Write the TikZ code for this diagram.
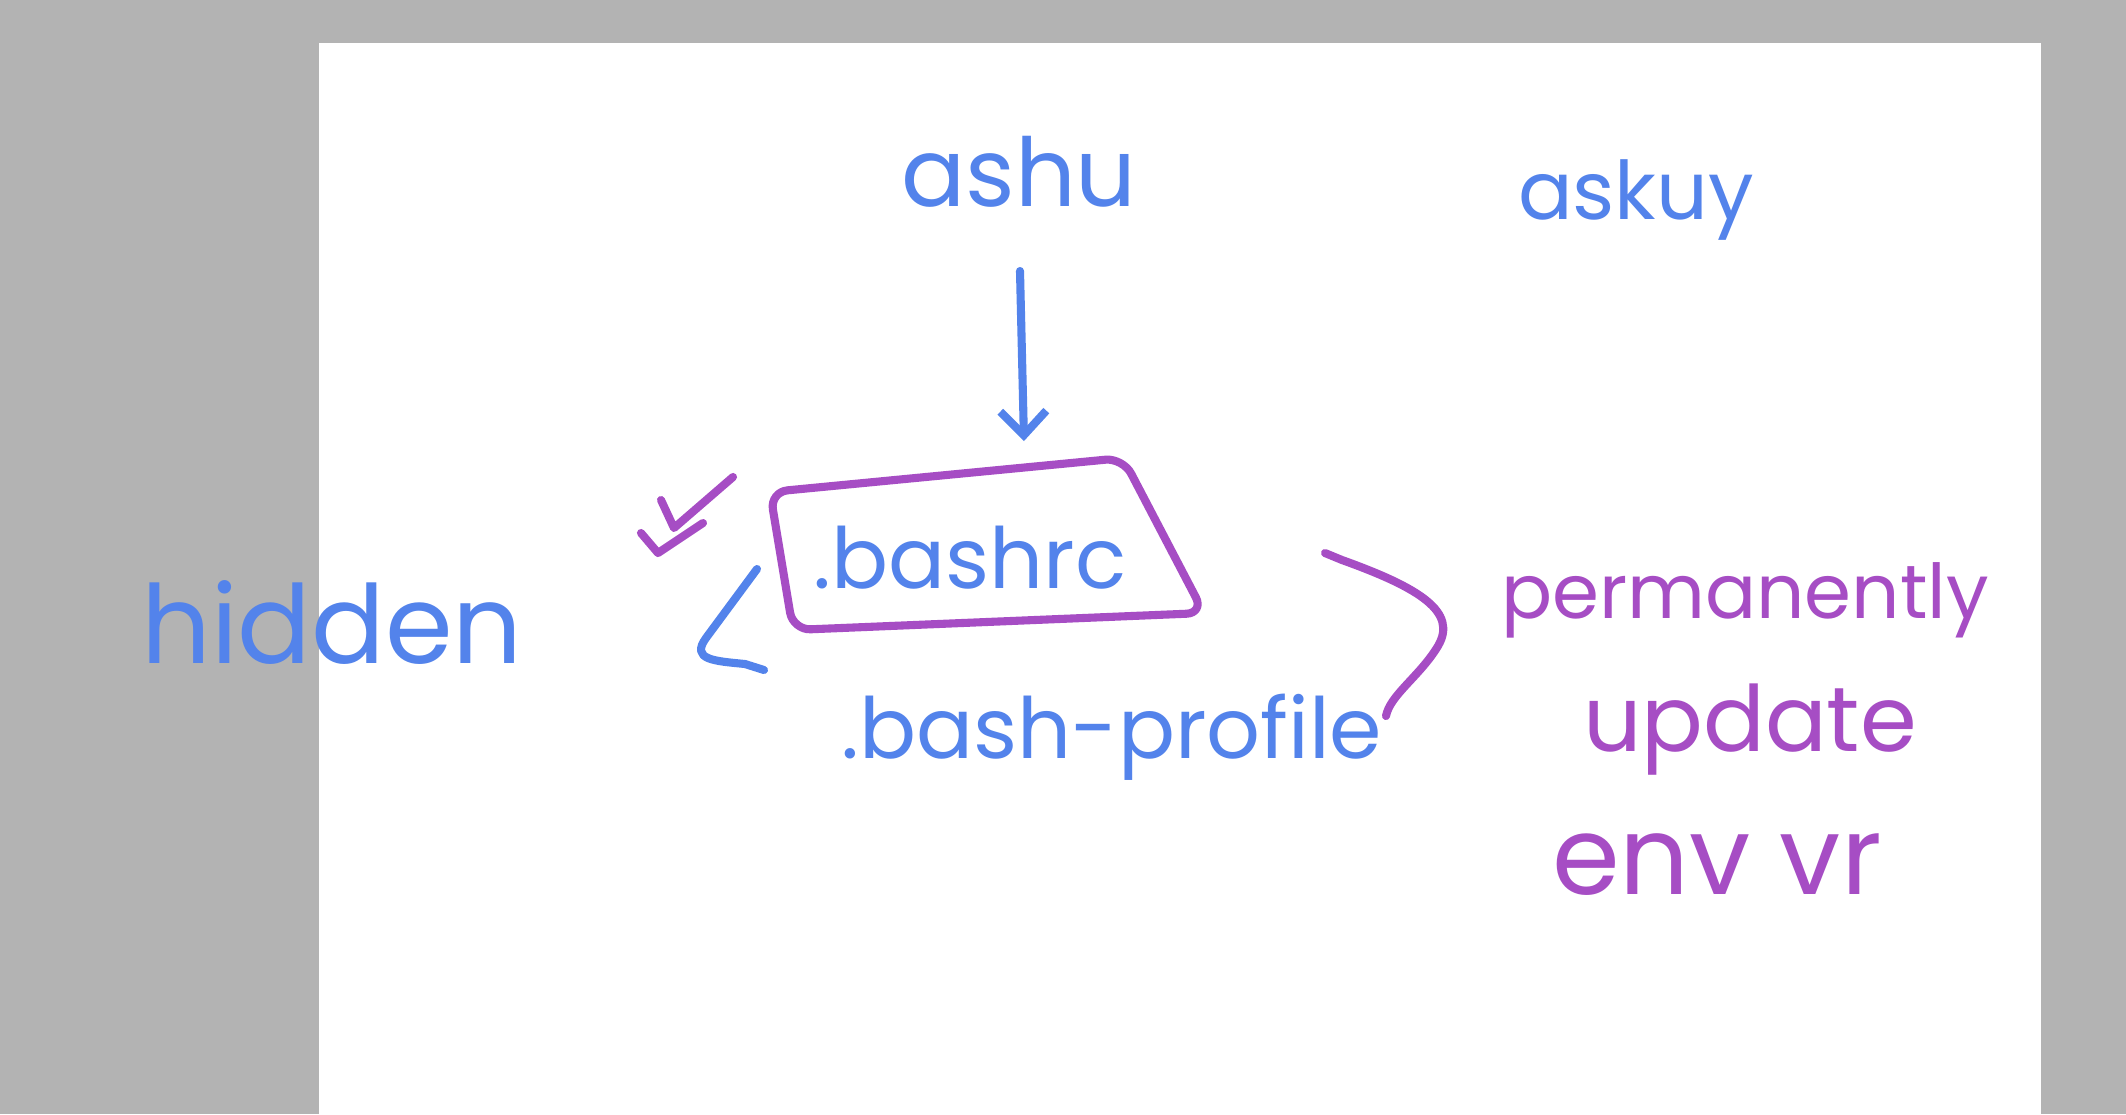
\documentclass[tikz,border=0pt]{standalone}
\usepackage{fontspec}
\setmainfont{Poppins}
\usetikzlibrary{arrows.meta}
\definecolor{penblue}{HTML}{5383EB}
\definecolor{penpurple}{HTML}{A64DC4}
\definecolor{deskgray}{HTML}{B3B3B3}
\begin{document}
\begin{tikzpicture}[x=0.01cm,y=-0.01cm,
	pen/.style={line width=2.3pt,line cap=round,line join=round},
	bluepen/.style={pen,draw=penblue},
	purplepen/.style={pen,draw=penpurple},
	word/.style={inner sep=0pt,text=penblue},
	pinkword/.style={inner sep=0pt,text=penpurple}]
	\newcommand{\myfontsize}[2]{
		\fontsize{#1}{#1}\selectfont{#2}
	}%Page
	\useasboundingbox (0,0) rectangle (2126,1114);
	\fill[deskgray] (0,0) rectangle (2126,1114);
	\fill[white] (319,43) rectangle (2041,1114);
	%Words at the top
	\node [word] (ashu) at (1019,172) {\myfontsize{27}{ashu}};
	\node [word] (askuy) at (1636,200) {\myfontsize{23}{askuy}};
	%The box with the bashrc
	\coordinate (boxTL) at (770,492);
	\coordinate (boxTR) at (1123,458);
	\coordinate (boxBR) at (1204,613);
	\coordinate (boxBL) at (793,630);
	\draw [purplepen,rounded corners=5pt] (boxTL) -- (boxTR) -- (boxBR) -- (boxBL) -- cycle;
	\node [word] (bashrc) at (970,558) {\myfontsize{24}{.bashrc}};
	%Arrow down into the box
	\coordinate (arrowStart) at (1020,271);
	\coordinate (arrowEnd) at (1024,441);
	\draw [bluepen,-{Straight Barb[length=0.24cm,width=0.46cm]}] (arrowStart) -- (arrowEnd);
	%The profile below
	\node [word] (profile) at (1112,737) {\myfontsize{24}{.bash-profile}};
	%Hidden on the left
	\node [word] (hidden) at (332,622) {\myfontsize{31}{hidden}};
	%Ticks
	\draw [purplepen] (661,500) -- (674,528) -- (733,477);
	\draw [purplepen] (641,533) -- (658,553) -- (703,523);
	%Bracket on the left
	\coordinate (leftTop) at (757,569);
	\coordinate (leftBottom) at (764,670);
	\draw [bluepen] (leftTop) -- (706,638) .. controls (690,660) and (715,661) .. (745,664) -- (leftBottom);
	%Bracket on the right
	\coordinate (rightTop) at (1325,553);
	\coordinate (rightBottom) at (1386,716);
	\draw [purplepen] (rightTop) -- (1342,560) .. controls (1420,588) and (1458,612) .. (1438,646) .. controls (1420,676) and (1390,695) .. (rightBottom);
	%Text on the right
	\node [pinkword] (permanently) at (1745,600) {\myfontsize{21.5}{permanently}};
	\node [pinkword] (update) at (1750,730) {\myfontsize{26}{update}};
	\node [pinkword] (env) at (1717,865) {\myfontsize{31}{env vr}};
\end{tikzpicture}
\end{document}
